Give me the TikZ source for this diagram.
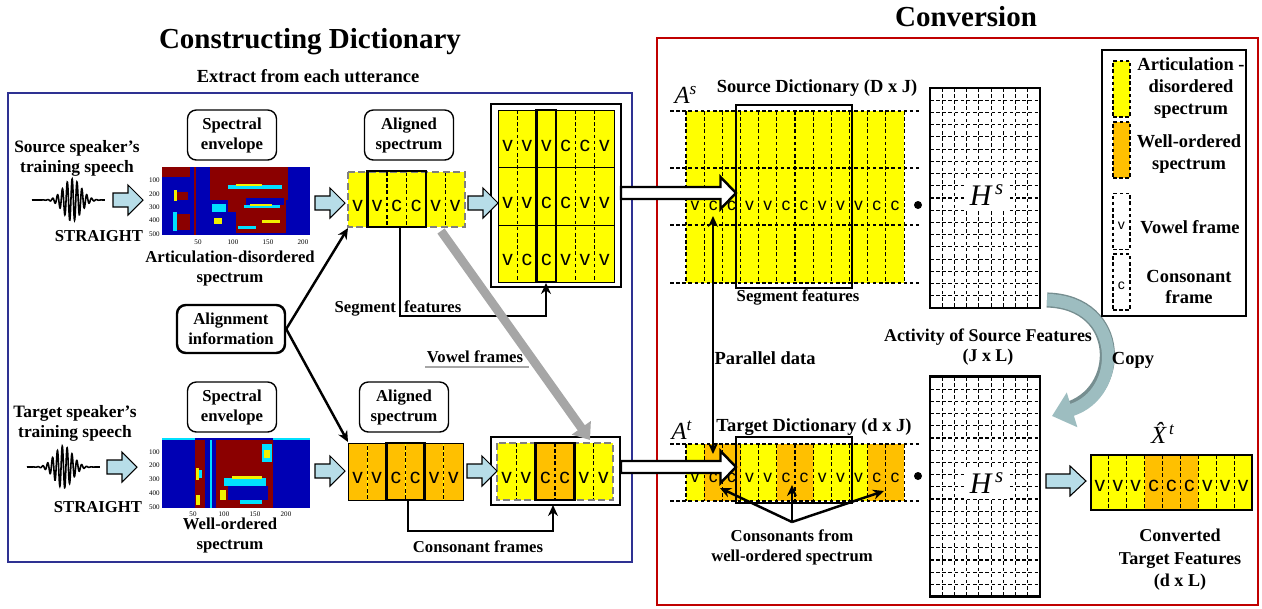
\documentclass[tikz,border=0pt]{standalone}
\usepackage{fontspec}
\setmainfont{Liberation Serif}
\setsansfont{Liberation Sans}
\usetikzlibrary{arrows.meta,positioning}

\definecolor{yel}{HTML}{FFFF00}
\definecolor{org}{HTML}{FFC000}
\definecolor{lblue}{HTML}{B7DDE8}
\definecolor{navy}{HTML}{2E3192}
\definecolor{dred}{HTML}{C00000}
\definecolor{vgray}{HTML}{A6A6A6}
\definecolor{copyc}{HTML}{9DBDC0}
\definecolor{jblue}{HTML}{0000B4}
\definecolor{jdred}{HTML}{8B0000}
\definecolor{jcyan}{HTML}{00E0FF}
\definecolor{jyel}{HTML}{F0F000}

\tikzset{
  lbl/.style={font=\bfseries\fontsize{9.5}{11.4}\selectfont, align=center, inner sep=0pt},
  rlbl/.style={font=\bfseries\fontsize{10.5}{11.4}\selectfont, align=center, inner sep=0pt},
  lgl/.style={font=\bfseries\fontsize{10.5}{12.3}\selectfont, align=center, inner sep=0pt},
  ttl/.style={font=\bfseries\fontsize{16.5}{18}\selectfont, inner sep=0pt},
  mth/.style={font=\itshape\fontsize{14}{14}\selectfont, inner sep=0pt},
  rbox/.style={lbl, draw, rounded corners=5pt, line width=0.8pt, minimum width=1.78cm, minimum height=1cm},
  vc/.style={font=\sffamily\fontsize{12}{12}\selectfont, inner sep=0pt},
  vcs/.style={font=\sffamily\fontsize{10}{10}\selectfont, inner sep=0pt},
  lbarr/.pic={\draw[fill=lblue, line width=0.6pt] (-15,-7) -- (0,-7) -- (0,-15) -- (15,0) -- (0,15) -- (0,7) -- (-15,7) -- cycle;},
  lbarrw/.pic={\draw[fill=lblue, line width=0.6pt] (-20,-7) -- (4,-7) -- (4,-15) -- (20,0) -- (4,15) -- (4,7) -- (-20,7) -- cycle;},
  bigarr/.pic={\draw[fill=white, line width=1.4pt] (-57.5,-6) -- (42,-6) -- (42,-16) -- (57.5,0) -- (42,16) -- (42,6) -- (-57.5,6) -- cycle;},
  con/.style={line width=1.4pt, -{Stealth[length=0.22cm, width=0.2cm]}},
  hl/.style={draw, line width=1.6pt},
  sep/.style={dash pattern=on 2pt off 1.5pt, line width=0.6pt},
  gsep/.style={gray, dash pattern=on 4pt off 2pt, line width=1.5pt},
  ticklbl/.style={font=\fontsize{4}{4}\selectfont, inner sep=0pt},
  hmat/.style={draw, line width=1.6pt, minimum width=2.2cm, minimum height=4.4cm, inner sep=0pt},
  swatch/.style={draw, sep, minimum width=0.34cm, minimum height=1.12cm, inner sep=0pt},
  copyarr/.style={copyc, line width=7pt, -{Triangle[length=0.42cm, width=0.7cm]}},
}

\begin{document}
\begin{tikzpicture}[x=0.02cm, y=-0.02cm]
\useasboundingbox (0,0) rectangle (1262,609);

\node[ttl] (tdict) at (310,42) {Constructing Dictionary};
\node[rlbl] (textr) at (308,76) {Extract from each utterance};
\node[ttl] (tconv) at (966,17) {Conversion};
\draw[navy, line width=1.6pt] (8,93) rectangle (632,562);
\draw[dred, line width=1.2pt] (657,38) rectangle (1258,605);

\node[lbl, font=\bfseries\fontsize{9.9}{11.4}\selectfont] (srcsp) at (77,158) {Source speaker’s\\training speech};
\draw[line width=0.9pt] plot[domain=0:1, samples=400] ({32+73*\x}, {200-21*exp(-((\x-0.55)/0.17)^2)*sin(5400*\x)});
\node[lbl] (str1) at (99,236) {STRAIGHT};
\pic (a1) at (128,200) {lbarr};
\node[rbox] (env1) at (232,135) {Spectral\\envelope};

\fill[jblue] (162,167) rectangle (310,235);
\fill[jdred] (162,167) rectangle (290,177);
\fill[jdred] (210,177) rectangle (288,200);
\fill[jdred] (228,200) rectangle (286,212);
\fill[jdred] (236,212) rectangle (286,233);
\fill[jblue] (190,167) rectangle (210,235);
\fill[jdred] (194,167) rectangle (196,235);
\fill[jcyan] (228,185) rectangle (282,189);
\fill[jyel] (236,184) rectangle (262,186);
\fill[jblue] (246,198) rectangle (284,205);
\fill[jcyan] (244,205) rectangle (280,208);
\fill[jyel] (250,204) rectangle (272,206);
\fill[jcyan] (212,204) rectangle (226,212);
\fill[jyel] (214,218) rectangle (222,224);
\fill[jdred] (176,192) rectangle (188,200);
\fill[jyel] (174,190) rectangle (177,201);
\fill[jdred] (176,214) rectangle (190,230);
\fill[jcyan] (173,212) rectangle (177,231);
\fill[jyel] (262,220) rectangle (280,223);
\fill[jcyan] (238,226) rectangle (256,229);
\fill[jblue] (288,167) rectangle (310,235);
\foreach \v [count=\k] in {100,200,300,400,500}
  \node[ticklbl, anchor=east] at (160,{167+13.4*\k}) {\v};
\foreach \v/\xx in {50/198,100/233,150/268,200/303}
  \node[ticklbl] at (\xx,242) {\v};
\node[lbl] (art) at (230,268) {Articulation-disordered\\spectrum};

\pic (a2) at (330,203) {lbarr};
\node[rbox] (al1) at (409,135) {Aligned\\spectrum};
\fill[yel] (348,172) rectangle (465,227);
\foreach \i in {1,...,5} \draw[sep] ({348+\i*19.5},172) -- ({348+\i*19.5},227);
\foreach \l [count=\i] in {v,v,c,c,v,v} \node[vc] (s\i) at ({348+(\i-0.5)*19.5},206) {\l};
\draw[gsep] (348,172) rectangle (465,227);
\draw[hl] (367.5,171) rectangle (426,227);
\coordinate (segsrc) at (400,227);
\coordinate (str1sw) at (348,228);
\coordinate (vsrc) at (441,231);

\node[draw, line width=1.6pt, fill=white, minimum width=2.6cm, minimum height=3.66cm, inner sep=0pt] (mat) at (556,195.5) {};
\fill[yel, draw=black, line width=0.4pt] (498,110) rectangle (614,282);
\draw[line width=0.5pt] (498,167) -- (614,167) (498,225) -- (614,225);
\foreach \i in {1,...,5} \draw[sep] ({498+\i*19.33},110) -- ({498+\i*19.33},282);
\foreach \row/\yy in {{v,v,v,c,c,v}/146, {v,v,c,c,v,v}/203, {v,c,c,v,v,v}/260}
  \foreach \l [count=\i] in \row \node[vc] at ({498+(\i-0.5)*19.33},\yy) {\l};
\draw[hl] (536.7,110) rectangle (556,282);
\coordinate (mcol) at (546,283);
\pic (a3) at (483,203) {lbarr};

\node[lbl] (segl) at (398,308) {Segment\hspace{0.5em}features};
\draw[con] (segsrc) -- (400,316) -| (mcol);

\node[lbl, draw, rounded corners=5pt, line width=1.4pt, minimum width=2.16cm, minimum height=0.96cm] (alinfo) at (231,329) {Alignment\\information};
\coordinate (str2nw) at (348,442);
\draw[con] (alinfo.east) -- (str1sw);
\draw[con] (alinfo.east) -- (str2nw);

\node[lbl, font=\bfseries\fontsize{9.9}{11.4}\selectfont] (tgtsp) at (75,423) {Target speaker’s\\training speech};
\draw[line width=0.9pt] plot[domain=0:1, samples=400] ({27+73*\x}, {467-21*exp(-((\x-0.5)/0.17)^2)*sin(5400*\x)});
\node[lbl] (str2) at (98,507) {STRAIGHT};
\pic (a4) at (122,467) {lbarr};
\node[rbox] (env2) at (232,407) {Spectral\\envelope};

\fill[jblue] (162,438) rectangle (310,508);
\fill[jdred] (195,440) rectangle (273,508);
\fill[jblue] (205,440) rectangle (216,508);
\fill[jcyan] (210,440) rectangle (211.5,508);
\fill[jyel] (196,468) rectangle (199,480);
\fill[jcyan] (199,470) rectangle (202,478);
\fill[jyel] (196,495) rectangle (200,505);
\fill[jcyan] (262,444) rectangle (272,462);
\fill[jyel] (264,450) rectangle (270,458);
\fill[jcyan] (224,478) rectangle (266,486);
\fill[jblue] (228,486) rectangle (268,500);
\fill[jyel] (232,476) rectangle (262,479);
\fill[jcyan] (240,500) rectangle (262,504);
\fill[jyel] (220,490) rectangle (226,500);
\fill[jcyan] (162,438) rectangle (195,440);
\fill[jcyan] (273,438) rectangle (310,440);
\foreach \v [count=\k] in {100,200,300,400,500}
  \node[ticklbl, anchor=east] at (160,{438+13.8*\k}) {\v};
\foreach \v/\xx in {50/193,100/224,150/255,200/286}
  \node[ticklbl] at (\xx,514) {\v};
\node[lbl] (well) at (230,535) {Well-ordered\\spectrum};

\pic (a5) at (330,471) {lbarr};
\node[rbox] (al2) at (404,407) {Aligned\\spectrum};
\fill[org] (348,443) rectangle (463,500);
\foreach \i in {1,...,5} \draw[sep, yel] ({348+\i*19.17},443) -- ({348+\i*19.17},500);
\foreach \i in {1,...,5} \draw[sep, dash phase=1.75pt] ({348+\i*19.17},443) -- ({348+\i*19.17},500);
\foreach \l [count=\i] in {v,v,c,c,v,v} \node[vc] (o\i) at ({348+(\i-0.5)*19.17},478) {\l};
\draw[line width=0.5pt] (348,443) rectangle (463,500);
\draw[hl] (386.3,443) rectangle (424.7,500);
\coordinate (consrc) at (408,500);

\node[draw, line width=1.6pt, fill=white, minimum width=2.58cm, minimum height=1.36cm, inner sep=0pt] (res) at (555.5,471) {};
\foreach \c [count=\i] in {yel,yel,org,org,yel,yel}
  \fill[\c] ({497+(\i-1)*19.33},443) rectangle ({497+\i*19.33},500);
\foreach \i in {1,...,5} \draw[sep] ({497+\i*19.33},443) -- ({497+\i*19.33},500);
\foreach \l [count=\i] in {v,v,c,c,v,v} \node[vc] (r\i) at ({497+(\i-0.5)*19.33},478) {\l};
\draw[gsep] (497,443) rectangle (613,500);
\draw[hl] (535.7,443) rectangle (574.3,500);
\pic (a6) at (482,471) {lbarr};
\coordinate (resc) at (553,505);
\draw[con] (consrc) -- (408,531) -| (resc);
\node[lbl] (conl) at (478,547) {Consonant frames};

\coordinate (vdst) at (590,440);
\draw[vgray, line width=5pt, -{Triangle[length=0.3cm, width=0.45cm]}] (vsrc) -- (vdst);
\node[lbl] (vowl) at (475,357) {Vowel frames};
\draw[vgray, line width=1.5pt] (425,367) -- (529,367);

\node[mth] (As) at (686,95) {A\textsuperscript{s}};
\node[rlbl] (sdl) at (817,88) {Source Dictionary (D x J)};
\fill[yel] (686,111) rectangle (904,283);
\foreach \yy in {111,168,225,283} \draw[sep] (670,\yy) -- (920,\yy);
\foreach \i in {0,...,12} \draw[sep] ({686+\i*18.17},111) -- ({686+\i*18.17},283);
\foreach \l [count=\i] in {v,c,c,v,v,c,c,v,v,v,c,c} \node[vcs] (sc\i) at ({686+(\i-0.5)*18.17},206) {\l};
\draw[hl] (736,105) rectangle (852,288);
\node[lbl] (segl2) at (798,297) {Segment features};
\node[circle, fill, inner sep=0pt, minimum size=0.16cm] (dot1) at (918,205) {};

\node[mth] (At) at (682,430) {A\textsuperscript{t}};
\node[rlbl] (tdl) at (814,427) {Target Dictionary (d x J)};
\foreach \l/\c [count=\i] in {v/yel,c/org,c/org,v/yel,v/yel,c/org,c/org,v/yel,v/yel,v/yel,c/org,c/org} {
  \fill[\c] ({686+(\i-1)*18.17},444) rectangle ({686+\i*18.17},501);
  \node[vcs] (tc\i) at ({686+(\i-0.5)*18.17},478) {\l};
}
\foreach \yy in {444,501} \draw[sep] (670,\yy) -- (920,\yy);
\foreach \i in {0,...,12} \draw[sep] ({686+\i*18.17},444) -- ({686+\i*18.17},501);
\draw[hl] (736,437) rectangle (852,503);
\node[circle, fill, inner sep=0pt, minimum size=0.16cm] (dot2) at (918,476) {};

\coordinate (cf) at (792,522);
\coordinate (cc1) at (720,488);
\coordinate (cc2) at (792,485);
\coordinate (cc3) at (884,491);
\draw[con] (cf) -- (cc1);
\draw[con] (cf) -- (cc2);
\draw[con] (cf) -- (cc3);
\node[lbl] (consl) at (792,547) {Consonants from\\well-ordered spectrum};

\pic (ba1) at (678.5,193) {bigarr};
\pic (ba2) at (678.5,467) {bigarr};

\coordinate (pd1) at (713,216);
\coordinate (pd2) at (713,454);
\draw[line width=1.4pt, {Stealth[length=0.22cm, width=0.2cm]}-{Stealth[length=0.22cm, width=0.2cm]}] (pd1) -- (pd2);
\node[rlbl] (pdl) at (765,358) {Parallel data};

\node[hmat] (H1) at (985,198) {};
\foreach \i in {1,...,8} \draw[sep] ({930+\i*12.22},88) -- ({930+\i*12.22},308);
\foreach \j in {1,...,17} \draw[sep] (930,{88+\j*12.22}) -- (1040,{88+\j*12.22});
\node[fill=white, font=\itshape\fontsize{17}{17}\selectfont, inner sep=3pt] (H1l) at (987,195) {H\textsuperscript{\,s}};
\node[rlbl, font=\bfseries\fontsize{10.2}{11.4}\selectfont] (actl) at (988,347) {Activity of Source Features\\(J x L)};

\node[hmat] (H2) at (985,486.5) {};
\foreach \i in {1,...,8} \draw[sep] ({930+\i*12.22},377) -- ({930+\i*12.22},596);
\foreach \j in {1,...,17} \draw[sep] (930,{377+\j*12.2}) -- (1040,{377+\j*12.2});
\node[fill=white, font=\itshape\fontsize{17}{17}\selectfont, inner sep=3pt] (H2l) at (987,483) {H\textsuperscript{\,s}};

\coordinate (cp1) at (1047,300);
\coordinate (cp2) at (1052,416);
\draw[copyc!75!black, line width=8.6pt] (cp1) .. controls (1124,302) and (1124,394) .. (1066,410);
\draw[copyarr] (cp1) .. controls (1124,302) and (1124,394) .. (cp2);
\node[rlbl] (copyl) at (1133,360) {Copy};

\pic (a7) at (1066,481) {lbarrw};
\foreach \c [count=\i] in {yel,yel,yel,org,org,org,yel,yel,yel}
  \fill[\c] ({1091+(\i-1)*17.89},455) rectangle ({1091+\i*17.89},510);
\foreach \i in {1,...,8} \draw[sep] ({1091+\i*17.89},455) -- ({1091+\i*17.89},510);
\foreach \l [count=\i] in {v,v,v,c,c,c,v,v,v} \node[vc] (x\i) at ({1091+(\i-0.5)*17.89},486) {\l};
\draw[line width=0.8pt] (1091,455) rectangle (1252,510);
\node[mth] (Xh) at (1163,433) {\^{X}\textsuperscript{\,t}};
\node[font=\bfseries\fontsize{10.3}{12.8}\selectfont, align=center, inner sep=0pt] (convl) at (1180,560) {Converted\\Target Features\\(d x L)};

\draw[line width=0.8pt] (1102,50) rectangle (1246,316);
\node[swatch, fill=yel] (lg1) at (1121.5,89) {};
\node[swatch, fill=org] (lg2) at (1121.5,150) {};
\node[swatch, fill=white] (lg3) at (1121.5,221.5) {};
\node[swatch, fill=white] (lg4) at (1121.5,282) {};
\node[font=\sffamily\fontsize{8}{8}\selectfont, inner sep=0pt] at (1121.5,226) {v};
\node[font=\sffamily\fontsize{8}{8}\selectfont, inner sep=0pt] at (1121.5,286) {c};
\node[lgl] (lgt1) at (1191,88) {Articulation -\\disordered\\spectrum};
\node[lgl] (lgt2) at (1189,154) {Well-ordered\\spectrum};
\node[lgl] (lgt3) at (1190,227) {Vowel frame};
\node[lgl] (lgt4) at (1189,287) {Consonant\\frame};
\end{tikzpicture}
\end{document}
